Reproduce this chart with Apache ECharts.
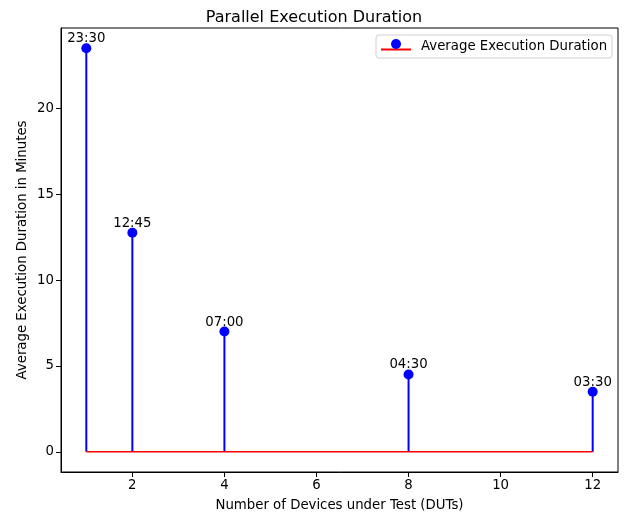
<!DOCTYPE html>
<html>
<head>
<meta charset="utf-8">
<script src="https://cdn.jsdelivr.net/npm/echarts@6/dist/echarts.min.js"></script>
<style>
  html, body { margin: 0; padding: 0; background: #fff; }
  #chart { width: 628px; height: 517px; }
</style>
</head>
<body>
<div id="chart"></div>
<script>
// stem plot: DUT count vs. average duration (minutes)
const devices = [1, 2, 4, 8, 12];
const minutes = [23.5, 12.75, 7, 4.5, 3.5];
const durationLabels = ['23:30', '12:45', '07:00', '04:30', '03:30'];
const xTicks = [2, 4, 6, 8, 10, 12];
const yTicks = [0, 5, 10, 15, 20];
const seriesName = 'Average Execution Duration';

const FONT = 'DejaVu Sans';
const FS = 13.3;
const chart = echarts.init(document.getElementById('chart'), null, { renderer: 'canvas' });

const points = devices.map((d, i) => [d, minutes[i]]);
const baseline = [[devices[0], 0], [devices[devices.length - 1], 0]];

chart.setOption({
  animation: false,
  backgroundColor: '#fff',
  textStyle: { fontFamily: FONT },
  title: {
    text: 'Parallel Execution Duration',
    left: 'center',
    top: 5,
    textStyle: { fontFamily: FONT, fontSize: 16, fontWeight: 'normal', color: '#000' },
  },
  grid: {
    left: 61, right: 10, top: 28, bottom: 45,
    show: true, borderColor: '#000', borderWidth: 1,
  },
  legend: [
    {
      left: 376, top: 35,
      padding: [5, 5, 5, 5],
      selectedMode: false,
      backgroundColor: '#fff',
      borderColor: '#d0d0d0', borderWidth: 1, borderRadius: 3,
      itemWidth: 30, itemHeight: 8, itemGap: 10,
      textStyle: { fontFamily: FONT, fontSize: FS, color: '#000', padding: [0, 0, 0, 5] },
      // red baseline sits a bit under the text centre, as in the stem legend handle
      data: [{ name: seriesName, icon: 'path://M0,0h0.01v0.01h-0.01z M0,6h30v2h-30z', itemStyle: { color: '#ff0000' } }],
      z: 10,
    },
    {
      left: 391, top: 39,
      padding: 0,
      selectedMode: false,
      itemWidth: 10, itemHeight: 10,
      formatter: () => '',
      data: [{ name: seriesName, icon: 'circle', itemStyle: { color: '#0000ff' } }],
      z: 11,
    },
  ],
  xAxis: {
    type: 'value',
    min: 0.45, max: 12.55,
    name: 'Number of Devices under Test (DUTs)',
    nameLocation: 'middle', nameGap: 27,
    nameTextStyle: { fontFamily: FONT, fontSize: FS, color: '#000' },
    axisLine: { show: true, onZero: false, lineStyle: { color: '#000' } },
    axisTick: { show: true, length: 5, lineStyle: { color: '#000' }, customValues: xTicks },
    axisLabel: { color: '#000', fontSize: FS, fontFamily: FONT, margin: 7, customValues: xTicks },
    splitLine: { show: false },
  },
  yAxis: {
    type: 'value',
    min: -1.175, max: 24.675,
    name: 'Average Execution Duration in Minutes',
    nameLocation: 'middle', nameGap: 32,
    nameMoveOverlap: false,
    nameTextStyle: { fontFamily: FONT, fontSize: FS, color: '#000' },
    axisLine: { show: true, onZero: false, lineStyle: { color: '#000' } },
    axisTick: { show: true, length: 5, lineStyle: { color: '#000' }, customValues: yTicks },
    axisLabel: { color: '#000', fontSize: FS, fontFamily: FONT, margin: 7, customValues: yTicks },
    splitLine: { show: false },
  },
  series: [
    {
      // vertical stems
      name: seriesName,
      type: 'custom',
      data: points,
      encode: { x: 0, y: 1 },
      renderItem: (params, api) => {
        const x = api.value(0);
        const p0 = api.coord([x, 0]);
        const p1 = api.coord([x, api.value(1)]);
        return {
          type: 'line',
          shape: { x1: p0[0], y1: p0[1], x2: p1[0], y2: p1[1] },
          style: { stroke: '#0000ff', lineWidth: 2 },
        };
      },
      z: 2,
    },
    {
      // red baseline
      name: seriesName,
      type: 'line',
      data: baseline,
      symbol: 'none',
      lineStyle: { color: '#ff0000', width: 1.6 },
      z: 3,
    },
    {
      name: seriesName,
      type: 'scatter',
      data: points,
      symbol: 'circle',
      symbolSize: 10,
      itemStyle: { color: '#0000ff', opacity: 1 },
      label: {
        show: true,
        position: 'top',
        distance: 0,
        offset: [0, 2],
        color: '#000',
        fontSize: FS,
        fontFamily: FONT,
        formatter: (p) => durationLabels[p.dataIndex],
      },
      z: 4,
    },
  ],
});
</script>
</body>
</html>
